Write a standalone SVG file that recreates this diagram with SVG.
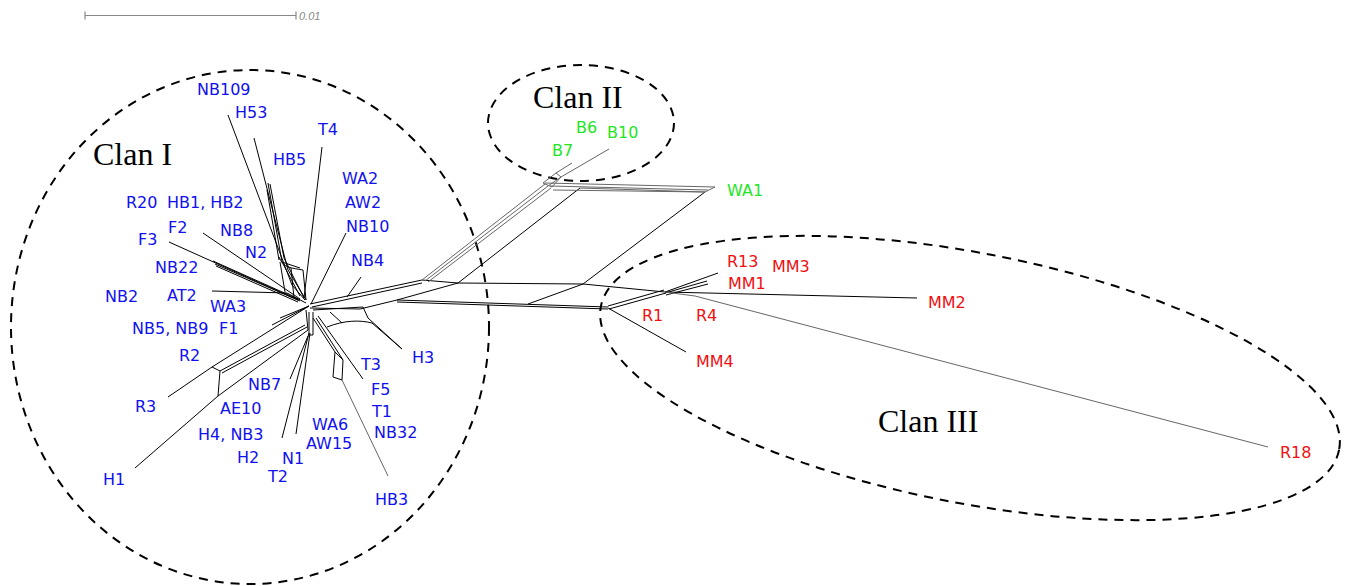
<svg xmlns="http://www.w3.org/2000/svg" width="1350" height="586" viewBox="0 0 1350 586">
<style>
.e{fill:none;stroke:#000;stroke-width:1}
.g{fill:none;stroke:#666;stroke-width:1}
.clan{fill:none;stroke:#000;stroke-width:2;stroke-dasharray:9 7}
.ct{font-family:"Liberation Serif","Times New Roman",serif;font-size:32px;fill:#000}
.lb,.lg,.lr{font-family:"DejaVu Sans",sans-serif;font-size:16px}
.lb{fill:#1010f0}
.lg{fill:#22e622}
.lr{fill:#f01010}
.sb{fill:none;stroke:#888;stroke-width:1.2}
.st{font-family:"Liberation Sans",Arial,sans-serif;font-size:11px;font-style:italic;fill:#888}
</style>
<rect width="1350" height="586" fill="#fff"/>
<g id="scale">
<path class="sb" d="M85,15.5 H296 M85,11.5 V19.5 M296,11.5 V19.5"/>
<text class="st" x="299" y="20">0.01</text>
</g>
<g id="clans">
<ellipse id="clan1" class="clan" cx="250" cy="327" rx="239" ry="257"/>
<ellipse id="clan2" class="clan" cx="581" cy="123" rx="93" ry="58"/>
<ellipse id="clan3" class="clan" cx="970" cy="378" rx="376" ry="125" transform="rotate(11 970 378)"/>
<text class="ct" x="93" y="165">Clan I</text>
<text class="ct" x="533" y="108">Clan II</text>
<text class="ct" x="878" y="432">Clan III</text>
</g>
<g id="connectors">
<!-- upper fan of Clan I -->
<path class="e" d="M228,115 L292,285 L305,300"/>
<path class="e" d="M254,138 L288,270 L306,300"/>
<path class="e" d="M268,183 L282,262 L300,296 M270,184 L284,258 L304,298 M267,190 L279,260"/>
<path class="e" d="M279,257 C283,268 292,268 303,270 M280,262 L285,292 M291,268 L294,298 M303,270 L306,300 M282,262 L300,268"/>
<path class="e" d="M322,147 L304,298"/>
<path class="e" d="M346,233 L311,304"/>
<path class="e" d="M361,277 L347,297"/>
<path class="e" d="M203,233 L300,299"/>
<path class="e" d="M169,242 L298,300"/>
<path class="e" d="M213,261 L300,300 M215,264 L300,301 M216,266 L298,302"/>
<path class="e" d="M212,291 L287,293 L306,303"/>
<!-- lower left -->
<path class="e" d="M309,306 L212,367 M168,397 L212,367 L220,371 M220,371 L218,396"/>
<path class="e" d="M135,468 L218,396"/>
<path class="e" d="M218,396 L308,330" stroke-width="1.8"/>
<path class="e" d="M220,371 L305,325 M222,373 L307,327"/>
<path class="e" d="M306,310 L308,330 M309,306 L280,318 M309,306 L272,325"/>
<path class="e" d="M290,379 L308,336 M282,438 L309,333 M296,434 L310,333 M309,312 L309,335 M313,312 L313,335 M309,335 L313,335"/>
<!-- lower right -->
<path class="e" d="M313,318 L335,352 L343,360 M316,318 L343,360 M335,352 L333,377 L342,380 M343,360 L342,380"/>
<path class="g" d="M342,380 L388,476"/>
<path class="e" d="M318,316 L363,379"/>
<path class="e" d="M313,310 L363,307 L368,318 L402,349 M327,327 C345,320 360,320 372,323 L402,349 M330,312 L342,323"/>
<!-- long right bundle -->
<path class="e" d="M310,304 L422,280 M312,307 L422,283"/>
<path class="e" d="M310,308 L360,309 L397,300 M397,300 L458,283 M422,280 L458,283"/>
<path class="e" d="M397,300 L608,307 M397,302 L608,309"/>
<path class="e" d="M458,283 L583,284 L665,292"/>
<path class="e" d="M528,304 L583,284"/>
<path class="e" d="M583,284 L705,192"/>
<path class="e" d="M458,283 L580,188"/>
<!-- Clan II -->
<path class="g" d="M422,280 L545,184 M425,281 L548,186 M428,282 L551,188"/>
<path class="g" d="M543,183 L556,173 M548,186 L561,177 M556,173 L561,177 M556,173 L572,163 M561,177 L609,149 M543,183 L552,187 L561,177"/>
<path class="g" d="M545,183 L715,187 M550,186 L708,190 M553,190 L705,192 L715,187 M580,188 L705,192"/>
<!-- Clan III -->
<path class="e" d="M608,306 L664,290 M609,309 L666,293"/>
<path class="e" d="M665,292 L718,273 M665,293 L707,281 M666,295 L708,284"/>
<path class="e" d="M665,292 L917,298"/>
<path class="g" d="M665,292 L695,296 L1268,447"/>
<path class="e" d="M608,308 L686,352"/>
</g>
<g id="n-NB109"><text class="lb" x="197" y="95">NB109</text></g>
<g id="n-H53"><text class="lb" x="235" y="118">H53</text></g>
<g id="n-T4"><text class="lb" x="318" y="135">T4</text></g>
<g id="n-HB5"><text class="lb" x="273" y="165">HB5</text></g>
<g id="n-WA2"><text class="lb" x="342" y="184">WA2</text></g>
<g id="n-R20"><text class="lb" x="126" y="208">R20</text></g>
<g id="n-HB1HB2"><text class="lb" x="167" y="208">HB1, HB2</text></g>
<g id="n-AW2"><text class="lb" x="345" y="208">AW2</text></g>
<g id="n-F2"><text class="lb" x="168" y="233">F2</text></g>
<g id="n-NB8"><text class="lb" x="220" y="236">NB8</text></g>
<g id="n-NB10"><text class="lb" x="346" y="232">NB10</text></g>
<g id="n-F3"><text class="lb" x="138" y="245">F3</text></g>
<g id="n-N2"><text class="lb" x="245" y="258">N2</text></g>
<g id="n-NB4"><text class="lb" x="351" y="266">NB4</text></g>
<g id="n-NB22"><text class="lb" x="155" y="273">NB22</text></g>
<g id="n-NB2"><text class="lb" x="105" y="302">NB2</text></g>
<g id="n-AT2"><text class="lb" x="167" y="301">AT2</text></g>
<g id="n-WA3"><text class="lb" x="210" y="312">WA3</text></g>
<g id="n-NB5NB9"><text class="lb" x="132" y="334">NB5, NB9</text></g>
<g id="n-F1"><text class="lb" x="219" y="334">F1</text></g>
<g id="n-R2"><text class="lb" x="179" y="361">R2</text></g>
<g id="n-NB7"><text class="lb" x="248" y="390">NB7</text></g>
<g id="n-R3"><text class="lb" x="135" y="412">R3</text></g>
<g id="n-AE10"><text class="lb" x="220" y="414">AE10</text></g>
<g id="n-WA6"><text class="lb" x="312" y="430">WA6</text></g>
<g id="n-H4NB3"><text class="lb" x="198" y="440">H4, NB3</text></g>
<g id="n-AW15"><text class="lb" x="306" y="449">AW15</text></g>
<g id="n-H2"><text class="lb" x="237" y="463">H2</text></g>
<g id="n-N1"><text class="lb" x="282" y="464">N1</text></g>
<g id="n-H1"><text class="lb" x="103" y="485">H1</text></g>
<g id="n-T2"><text class="lb" x="268" y="482">T2</text></g>
<g id="n-T3"><text class="lb" x="361" y="370">T3</text></g>
<g id="n-H3"><text class="lb" x="412" y="363">H3</text></g>
<g id="n-F5"><text class="lb" x="371" y="395">F5</text></g>
<g id="n-T1"><text class="lb" x="372" y="417">T1</text></g>
<g id="n-NB32"><text class="lb" x="374" y="438">NB32</text></g>
<g id="n-HB3"><text class="lb" x="375" y="505">HB3</text></g>
<g id="n-B6"><text class="lg" x="576" y="133">B6</text></g>
<g id="n-B10"><text class="lg" x="607" y="138">B10</text></g>
<g id="n-B7"><text class="lg" x="552" y="156">B7</text></g>
<g id="n-WA1"><text class="lg" x="727" y="196">WA1</text></g>
<g id="n-R13"><text class="lr" x="727" y="267">R13</text></g>
<g id="n-MM3"><text class="lr" x="772" y="272">MM3</text></g>
<g id="n-MM1"><text class="lr" x="728" y="289">MM1</text></g>
<g id="n-MM2"><text class="lr" x="928" y="308">MM2</text></g>
<g id="n-R1"><text class="lr" x="642" y="321">R1</text></g>
<g id="n-R4"><text class="lr" x="696" y="321">R4</text></g>
<g id="n-MM4"><text class="lr" x="696" y="367">MM4</text></g>
<g id="n-R18"><text class="lr" x="1280" y="458">R18</text></g>
</svg>
